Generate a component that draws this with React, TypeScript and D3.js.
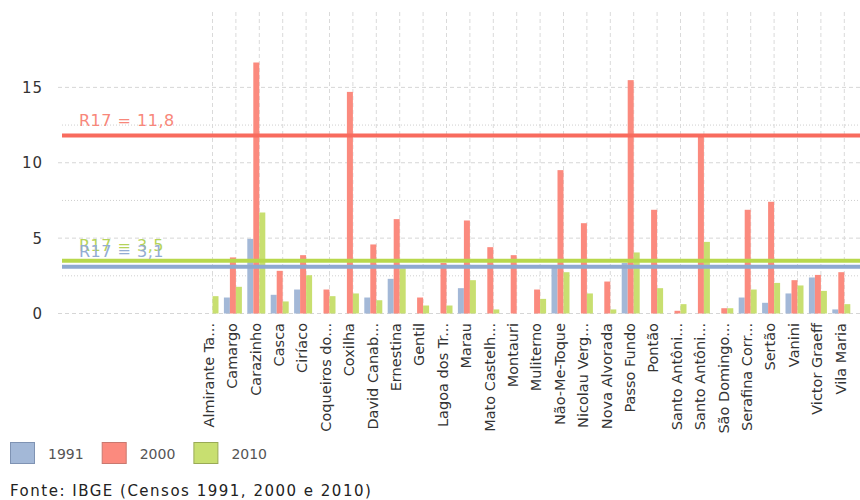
import React, { useEffect } from "react";
import * as d3 from "d3";

const categories = [
  "Almirante Ta...", "Camargo", "Carazinho", "Casca", "Ciríaco", "Coqueiros do...",
  "Coxilha", "David Canab...", "Ernestina", "Gentil", "Lagoa dos Tr...", "Marau",
  "Mato Castelh...", "Montauri", "Muliterno", "Não-Me-Toque", "Nicolau Verg...",
  "Nova Alvorada", "Passo Fundo", "Pontão", "Santo Antôni...", "Santo Antôni...",
  "São Domingo...", "Serafina Corr...", "Sertão", "Vanini", "Victor Graeff", "Vila Maria",
];

const v1991: (number | null)[] = [null, 1.06, 4.95, 1.24, 1.59, null, null, 1.06, 2.3, null, null, 1.68, null, null, null, 3.2, null, null, 3.35, null, null, null, null, 1.06, 0.71, 1.33, 2.39, 0.27];
const v2000: (number | null)[] = [null, 3.72, 16.65, 2.83, 3.87, 1.59, 14.7, 4.58, 6.26, 1.06, 3.35, 6.17, 4.4, 3.87, 1.59, 9.51, 5.99, 2.12, 15.48, 6.88, 0.18, 11.85, 0.35, 6.88, 7.41, 2.21, 2.56, 2.74];
const v2010: (number | null)[] = [1.15, 1.77, 6.7, 0.8, 2.54, 1.15, 1.33, 0.88, 3.0, 0.53, 0.53, 2.21, 0.27, null, 0.97, 2.74, 1.33, 0.27, 4.05, 1.68, 0.62, 4.75, 0.35, 1.59, 2.03, 1.86, 1.5, 0.62];

const seriesNames = ["1991", "2000", "2010"];
const seriesValues = [v1991, v2000, v2010];
const barColors = ["#a3b8d7", "#fb8a7e", "#c8df70"];
const swatchStroke = ["#7f93b3", "#c9786f", "#99aa55"];

const refValues = [11.8, 3.5, 3.1];
const refLabels = ["R17 = 11,8", "R17 = 3,5", "R17 = 3,1"];
const refLineColors = ["#f86b5e", "#b8d84c", "#8ea9d0"];
const refTextColors = ["#f8877a", "#b5d35a", "#93acd3"];

const yMajorTicks = [0, 5, 10, 15];
const yMinorTicks = [2.5, 7.5, 12.5];

const FONT = "'DejaVu Sans', Verdana, sans-serif";

export default function App() {
  useEffect(() => {
    document.body.style.margin = "0";
  }, []);

  const W = 860, H = 500;
  const y = d3.scaleLinear().domain([0, 20]).range([313.5, 12]);
  const idx = categories.map((_, i) => i);
  const x0 = d3.scaleBand<number>().domain(idx).range([197.8, 853]).padding(0);
  const groupW = 18;
  const x1 = d3.scaleBand<number>().domain([0, 1, 2]).range([0, groupW]).padding(0);
  const gx = (i: number) => (x0(i) as number) + (x0.bandwidth() - groupW) / 2;
  const center = (i: number) => (x0(i) as number) + x0.bandwidth() / 2;

  return (
    <svg width={W} height={H} style={{ position: "absolute", left: 0, top: 0, background: "#fff" }} fontFamily={FONT}>
      {/* horizontal grid */}
      {yMajorTicks.map((t) => (
        <line key={"mj" + t} x1={58} x2={W} y1={y(t)} y2={y(t)} stroke="#d6d6d6" strokeDasharray="4,3" />
      ))}
      {yMinorTicks.map((t) => (
        <line key={"mn" + t} x1={62} x2={W} y1={y(t)} y2={y(t)} stroke="#cfcfcf" strokeDasharray="1,2" />
      ))}
      {/* vertical grid */}
      {idx.map((i) => (
        <line key={"vg" + i} x1={center(i) + 3} x2={center(i) + 3} y1={y(20)} y2={y(0)} stroke="#dadada" strokeDasharray="4,3" />
      ))}
      {/* y tick labels */}
      {yMajorTicks.map((t) => (
        <text key={"yl" + t} x={43} y={y(t)} dy="0.36em" textAnchor="end" fontSize={15} letterSpacing={1} fill="#333">
          {t}
        </text>
      ))}
      {/* bars */}
      {seriesValues.map((vals, s) =>
        vals.map((v, i) =>
          v == null ? null : (
            <rect
              key={"b" + s + "-" + i}
              x={gx(i) + (x1(s) as number)}
              y={y(v)}
              width={x1.bandwidth()}
              height={y(0) - y(v)}
              fill={barColors[s]}
            />
          )
        )
      )}
      {/* reference lines */}
      {refValues.map((r, k) => (
        <g key={"r" + k}>
          <line x1={62} x2={W} y1={y(r)} y2={y(r)} stroke={refLineColors[k]} strokeWidth={4} />
        </g>
      ))}
      {refValues.map((r, k) => (
        <text key={"rt" + k} x={79} y={y(r) - 10} fontSize={16} letterSpacing={0.5} fill={refTextColors[k]}>
          {refLabels[k]}
        </text>
      ))}
      {/* x labels */}
      {idx.map((i) => (
        <text
          key={"xl" + i}
          transform={`translate(${center(i)},323) rotate(-90)`}
          dy="0.3em"
          textAnchor="end"
          fontSize={14.5}
          fill="#333"
        >
          {categories[i]}
        </text>
      ))}
      {/* legend */}
      {seriesNames.map((n, s) => (
        <g key={"lg" + s} transform={`translate(${10 + s * 91.7},442)`}>
          <rect x={0.5} y={0.5} width={24} height={21} fill={barColors[s]} stroke={swatchStroke[s]} strokeWidth={1} />
          <text x={38} y={17} fontSize={14} fill="#555">
            {n}
          </text>
        </g>
      ))}
      {/* footer */}
      <text x={10} y={496} fontSize={15} letterSpacing={1.5} fill="#222">
        Fonte: IBGE (Censos 1991, 2000 e 2010)
      </text>
    </svg>
  );
}
